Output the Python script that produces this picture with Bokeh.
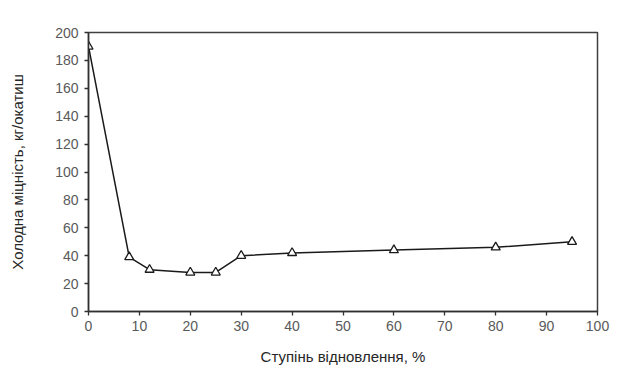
from bokeh.plotting import figure
from bokeh.embed import file_html
from bokeh.resources import INLINE
from bokeh.models import Range1d, FixedTicker

reduction = [0, 8, 12, 20, 25, 30, 40, 60, 80, 95]
strength = [190, 39, 30, 28, 28, 40, 42, 44, 46, 50]
x_ticks = [0, 10, 20, 30, 40, 50, 60, 70, 80, 90, 100]
y_ticks = [0, 20, 40, 60, 80, 100, 120, 140, 160, 180, 200]

p = figure(width=619, height=367, output_backend="svg", toolbar_location=None,
           x_range=Range1d(0, 100), y_range=Range1d(0, 200),
           min_border_left=88, min_border_right=22, min_border_top=32, min_border_bottom=56)

p.line(reduction, strength, line_color="#1a1a1a", line_width=1.5)
p.scatter(reduction, strength, marker="triangle", size=9, fill_color="white",
          line_color="#1a1a1a", line_width=1.3)

p.xgrid.visible = False
p.ygrid.visible = False
p.outline_line_color = "#404040"
p.outline_line_width = 1.5
p.outline_line_alpha = 1

font = "Liberation Sans"
for ax in (p.xaxis[0], p.yaxis[0]):
    ax.axis_line_color = "#303030"
    ax.axis_line_width = 1.5
    ax.major_tick_line_color = "#303030"
    ax.major_tick_line_width = 1.3
    ax.major_tick_in = 0
    ax.major_tick_out = 4
    ax.minor_tick_line_color = None
    ax.major_label_text_font = font
    ax.major_label_text_font_size = "14px"
    ax.major_label_text_color = "#595959"
    ax.axis_label_text_font = font
    ax.axis_label_text_font_size = "15px"
    ax.axis_label_text_font_style = "normal"
    ax.axis_label_text_color = "#262626"

p.xaxis.ticker = FixedTicker(ticks=x_ticks)
p.yaxis.ticker = FixedTicker(ticks=y_ticks)
p.xaxis.axis_label = "Ступінь відновлення, %"
p.yaxis.axis_label = "Холодна міцність, кг/окатиш"
p.xaxis.major_label_standoff = 5
p.yaxis.major_label_standoff = 6
p.xaxis.axis_label_standoff = 14
p.yaxis.axis_label_standoff = 26

open("out.html", "w").write(file_html(p, INLINE))
